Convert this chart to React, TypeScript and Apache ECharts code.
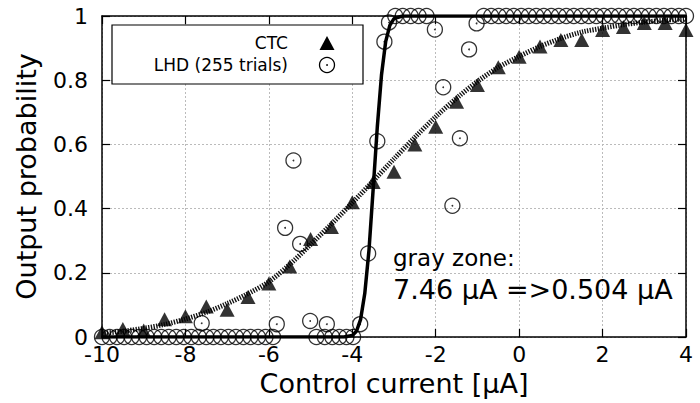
import React, { useEffect, useRef } from "react";
import * as echarts from "echarts";

// CTC measured points (triangles)
const ctcX = [-10, -9.5, -9, -8.5, -8, -7.5, -7, -6.5, -6, -5.5, -5, -4.5, -4, -3.5, -3, -2.5, -2, -1.5, -1, -0.5, 0, 0.5, 1, 1.5, 2, 2.5, 3, 3.5, 4];
const ctcY = [0.015, 0.025, 0.02, 0.055, 0.065, 0.095, 0.085, 0.125, 0.167, 0.22, 0.305, 0.343, 0.42, 0.483, 0.515, 0.6, 0.655, 0.733, 0.785, 0.84, 0.873, 0.905, 0.925, 0.925, 0.956, 0.966, 0.978, 0.978, 0.956];

// CTC fitted curve (hatched line)
const fitX = [-10, -9.5, -9, -8.5, -8, -7.5, -7, -6.5, -6, -5.5, -5, -4.5, -4, -3.5, -3, -2.5, -2, -1.5, -1, -0.5, 0, 0.5, 1, 1.5, 2, 2.5, 3, 3.5, 4];
const fitY = [0.011, 0.018, 0.027, 0.039, 0.056, 0.077, 0.104, 0.135, 0.172, 0.226, 0.288, 0.352, 0.418, 0.486, 0.555, 0.622, 0.686, 0.744, 0.796, 0.84, 0.874, 0.905, 0.93, 0.95, 0.962, 0.973, 0.981, 0.987, 0.991];

// LHD fitted curve (solid line)
const stepX = [-10, -4.2, -4.0, -3.9, -3.8, -3.7, -3.6, -3.5, -3.4, -3.3, -3.2, -3.1, -3.0, -2.8, 4];
const stepY = [0, 0, 0.005, 0.018, 0.055, 0.136, 0.27, 0.46, 0.655, 0.816, 0.92, 0.971, 0.992, 1, 1];

// LHD trials (circles)
const lhdX = [
  -10, -9.82, -9.64, -9.47, -9.29, -9.11, -8.93, -8.75, -8.58, -8.4, -8.22, -8.04, -7.86, -7.68, -7.61, -7.5, -7.33, -7.15, -6.97, -6.79, -6.61, -6.44, -6.26, -6.08, -5.9,
  -5.81, -5.61, -5.41, -5.25, -5.01, -4.86, -4.61, -4.66, -4.48, -4.31, -4.14, -3.98,
  -3.81, -3.62, -3.4, -3.23, -3.12, -2.97, -2.79, -2.6, -2.41, -2.22,
  -2.02, -1.82, -1.6, -1.42, -1.2, -1.02,
  -0.85, -0.67, -0.49, -0.31, -0.13, 0.05, 0.23, 0.41, 0.59, 0.77, 0.95, 1.13, 1.31, 1.49, 1.67, 1.85, 2.03, 2.21, 2.39, 2.57, 2.75, 2.93, 3.11, 3.29, 3.47, 3.65, 3.83, 4.0,
];
const lhdY = [
  0, 0, 0, 0, 0, 0, 0, 0, 0, 0, 0, 0, 0, 0, 0.043, 0, 0, 0, 0, 0, 0, 0, 0, 0, 0,
  0.04, 0.34, 0.55, 0.29, 0.05, 0, 0.04, 0, 0, 0, 0, 0,
  0.04, 0.26, 0.61, 0.92, 0.98, 1, 1, 1, 1, 1,
  0.958, 0.778, 0.409, 0.619, 0.896, 0.977,
  1, 1, 1, 1, 1, 1, 1, 1, 1, 1, 1, 1, 1, 1, 1, 1, 1, 1, 1, 1, 1, 1, 1, 1, 1, 1, 1, 1,
];

const xTickLabels = ["-10", "-8", "-6", "-4", "-2", "0", "2", "4"];
const yTickLabels = ["0", "0.2", "0.4", "0.6", "0.8", "1"];

const legendNames = ["CTC", "LHD (255 trials)"];
const annotation = ["gray zone:", "7.46 \u03bcA =>0.504 \u03bcA"];

const FONT = "DejaVu Sans";

const zip = (xs: number[], ys: number[]) => xs.map((x, i) => [x, ys[i]]);

export default function App() {
  const ref = useRef<HTMLDivElement>(null);
  useEffect(() => {
    const chart = echarts.init(ref.current!, null, { renderer: "svg" });
    const axisLine = { show: true, onZero: false, lineStyle: { color: "#000", width: 1.5 } };
    const tick = { show: true, inside: true, length: 8, lineStyle: { color: "#000", width: 1.2 } };
    chart.setOption({
      animation: false,
      backgroundColor: "#fff",
      textStyle: { fontFamily: FONT },
      grid: { left: 102, top: 16, width: 584, height: 321, containLabel: false },
      xAxis: [
        {
          type: "value",
          min: -10,
          max: 4,
          interval: 2,
          position: "bottom",
          axisLine,
          axisTick: tick,
          axisLabel: {
            color: "#000",
            fontSize: 22,
            fontFamily: FONT,
            margin: 6,
            formatter: (v: number) => xTickLabels[Math.round((v + 10) / 2)] ?? String(v),
          },
          splitLine: { show: true, lineStyle: { color: "#bbb", type: [2, 2], width: 1 } },
          name: "Control current [\u03bcA]",
          nameLocation: "middle",
          nameGap: 29,
          nameTextStyle: { color: "#000", fontSize: 27, fontFamily: FONT },
        },
        {
          type: "value",
          min: -10,
          max: 4,
          interval: 2,
          position: "top",
          axisLine,
          axisTick: tick,
          axisLabel: { show: false },
          splitLine: { show: false },
        },
      ],
      yAxis: [
        {
          type: "value",
          min: 0,
          max: 1,
          interval: 0.2,
          position: "left",
          axisLine,
          axisTick: tick,
          axisLabel: {
            color: "#000",
            fontSize: 22,
            fontFamily: FONT,
            margin: 14,
            formatter: (v: number) => yTickLabels[Math.round(v * 5)] ?? String(v),
          },
          splitLine: { show: true, lineStyle: { color: "#bbb", type: [2, 2], width: 1 } },
          name: "Output probability",
          nameLocation: "middle",
          nameGap: 62,
          nameRotate: 90,
          nameTextStyle: { color: "#000", fontSize: 27, fontFamily: FONT },
        },
        {
          type: "value",
          min: 0,
          max: 1,
          interval: 0.2,
          position: "right",
          axisLine,
          axisTick: tick,
          axisLabel: { show: false },
          splitLine: { show: false },
        },
      ],
      series: [
        {
          name: "CTC fit",
          type: "line",
          data: zip(fitX, fitY),
          smooth: 0.3,
          showSymbol: false,
          silent: true,
          lineStyle: { color: "#111", width: 5, type: [1.3, 1.3] },
          z: 3,
        },
        {
          name: "LHD fit",
          type: "line",
          data: zip(stepX, stepY),
          showSymbol: false,
          silent: true,
          lineStyle: { color: "#000", width: 3.5 },
          z: 4,
        },
        {
          name: legendNames[1],
          type: "scatter",
          data: zip(lhdX, lhdY),
          symbol: "circle",
          symbolSize: 15,
          itemStyle: { color: "rgba(0,0,0,0)", borderColor: "#000", borderWidth: 1.3 },
          z: 5,
        },
        {
          name: "LHD dots",
          type: "scatter",
          data: zip(lhdX, lhdY),
          symbol: "circle",
          symbolSize: 1.8,
          itemStyle: { color: "#000" },
          z: 5,
        },
        {
          name: legendNames[0],
          type: "scatter",
          data: zip(ctcX, ctcY),
          symbol: "triangle",
          symbolSize: [15, 14],
          itemStyle: { color: "#000" },
          z: 6,
        },
      ],
      graphic: [
        {
          type: "rect",
          shape: { x: 112, y: 25, width: 251, height: 59 },
          style: { fill: "#fff", stroke: "#000", lineWidth: 1.2 },
          z: 100,
        },
        {
          type: "text",
          x: 288,
          y: 43,
          style: { text: legendNames[0], fontSize: 17, fontFamily: FONT, fill: "#000", align: "right", verticalAlign: "middle" },
          z: 101,
        },
        {
          type: "text",
          x: 288,
          y: 65,
          style: { text: legendNames[1], fontSize: 17, fontFamily: FONT, fill: "#000", align: "right", verticalAlign: "middle" },
          z: 101,
        },
        {
          type: "polygon",
          shape: { points: [[319.5, 50], [334.5, 50], [327, 36]] },
          style: { fill: "#000" },
          z: 101,
        },
        {
          type: "circle",
          shape: { cx: 327, cy: 65, r: 7.5 },
          style: { fill: "none", stroke: "#000", lineWidth: 1.3 },
          z: 101,
        },
        {
          type: "circle",
          shape: { cx: 327, cy: 65, r: 0.9 },
          style: { fill: "#000" },
          z: 101,
        },
        {
          type: "text",
          x: 393,
          y: 258,
          style: { text: annotation[0], fontSize: 23, fontFamily: FONT, fill: "#000", align: "left", verticalAlign: "middle" },
          z: 101,
        },
        {
          type: "text",
          x: 393,
          y: 289,
          style: { text: annotation[1], fontSize: 27, fontFamily: FONT, fill: "#000", align: "left", verticalAlign: "middle" },
          z: 101,
        },
      ],
    });
    return () => chart.dispose();
  }, []);
  return (
    <div
      ref={ref}
      style={{ position: "fixed", left: 0, top: 0, width: 700, height: 403, background: "#fff" }}
    />
  );
}
